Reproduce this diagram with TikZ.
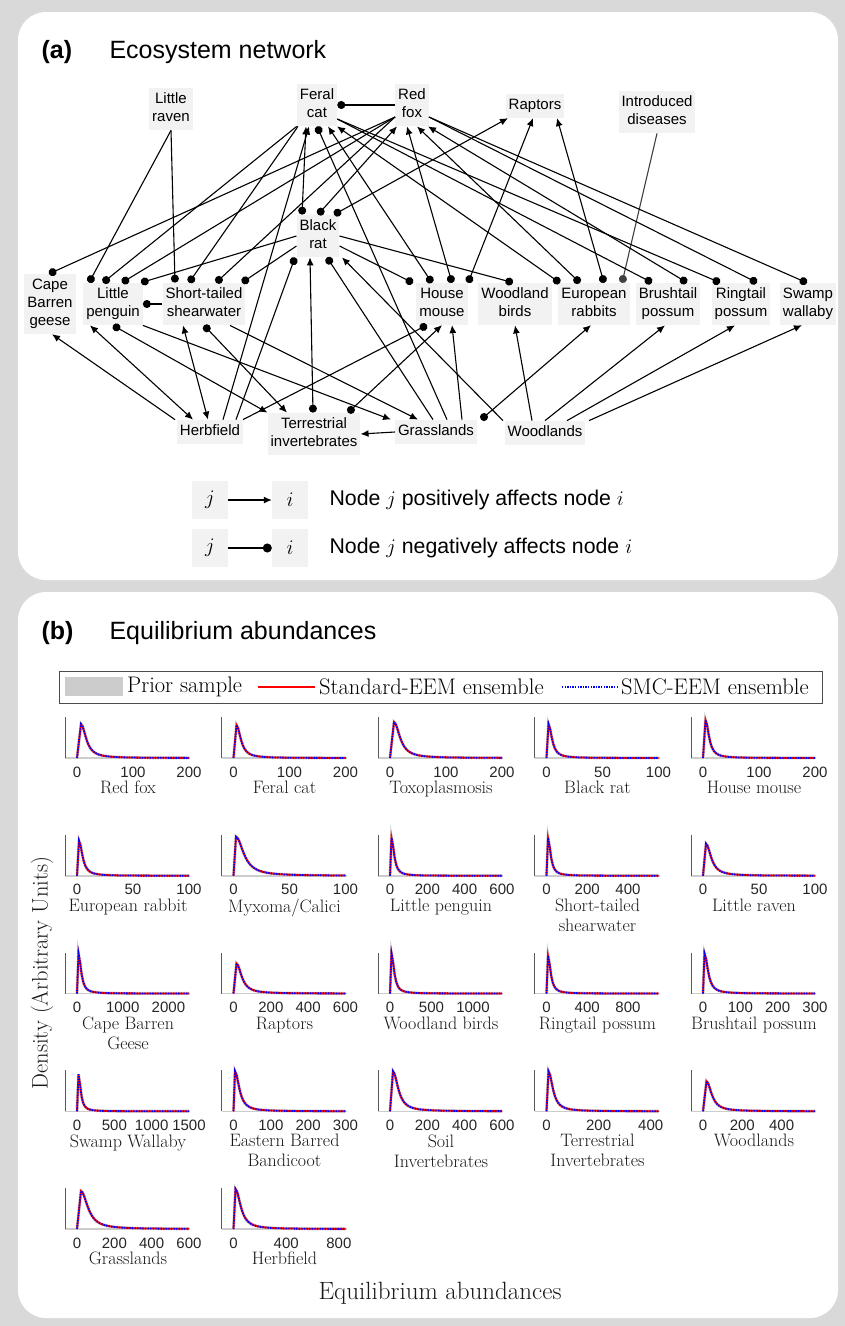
\documentclass[tikz,border=0pt]{standalone}
\usepackage{fontspec}
\newfontfamily\arialfont{Liberation Sans}
\usepackage{tikz}
\usetikzlibrary{arrows.meta}
\usetikzlibrary{calc}

\definecolor{boxgray}{HTML}{F2F2F2}
\definecolor{bggray}{HTML}{D9D9D9}
\definecolor{axisgray}{HTML}{595959}
\definecolor{priorgray}{HTML}{CCCCCC}
\definecolor{disgray}{HTML}{404040}
\definecolor{ticktext}{HTML}{262626}

\tikzset{
  spec/.style={fill=boxgray, align=center, inner xsep=3pt, inner ysep=5pt, text depth=3.5pt,
    font=\arialfont\fontsize{15}{18}\selectfont},
  legbox/.style={fill=boxgray, minimum width=36pt, minimum height=38pt, inner sep=0pt,
    font=\fontsize{22}{24}\selectfont},
  posarr/.style={line width=1.1pt, -{Latex[length=8pt,width=7pt]}},
  negarr/.style={line width=1.1pt, -{Circle[length=8pt]}},
  negpos/.style={line width=1.1pt, {Circle[length=8pt]}-{Latex[length=8pt,width=7pt]}},
  bothpos/.style={line width=1.1pt, {Latex[length=8pt,width=7pt]}-{Latex[length=8pt,width=7pt]}},
  ticklab/.style={font=\arialfont\fontsize{15}{17}\selectfont, text=ticktext, inner sep=0pt},
  plottitle/.style={font=\fontsize{18}{20}\selectfont, align=center, anchor=north, inner sep=0pt, text=black!90},
  priorcurve/.style={priorgray, line width=3pt},
  stdcurve/.style={red, line width=1.8pt},
  smccurve/.style={blue, line width=1.8pt, dash pattern=on 1.3pt off 1.3pt}
}

\begin{document}
\begin{tikzpicture}[x=1pt, y=-1pt]

\path[use as bounding box, fill=bggray] (0,0) rectangle (845,1326);
\fill[white, rounded corners=28pt] (18,12) rectangle (838,580);
\fill[white, rounded corners=28pt] (18,592) rectangle (838,1318);

% (a) network
\path
(38,52) node[anchor=west, font=\arialfont\bfseries\fontsize{25}{28}\selectfont] (atitle) {(a)}
(106,52) node[anchor=west, font=\arialfont\fontsize{25}{28}\selectfont] (aname) {Ecosystem network};

\path
(171,109) node[spec] (ravenin) {Little\\raven}
(317,105) node[spec] (catin) {Feral\\cat}
(412,105) node[spec] (foxin) {Red\\fox}
(535,106) node[spec] (raptin) {Raptors}
(657,112) node[spec] (disin) {Introduced\\diseases}
(318,236) node[spec] (ratin) {Black\\rat};

\path
(50,304) node[spec] (geesein) {Cape\\Barren\\geese}
(113,304) node[spec] (pengin) {Little\\penguin}
(204,304) node[spec] (shearin) {Short-tailed\\shearwater}
(442,304) node[spec] (mousein) {House\\mouse}
(515,304) node[spec] (wbirdin) {Woodland\\birds}
(594,304) node[spec] (rabbitin) {European\\rabbits}
(668,304) node[spec] (brushin) {Brushtail\\possum}
(741,304) node[spec] (ringin) {Ringtail\\possum}
(808,304) node[spec] (wallin) {Swamp\\wallaby};

\path
(210,432) node[spec] (herbin) {Herbfield}
(314,434) node[spec] (tinvin) {Terrestrial\\invertebrates}
(436,432) node[spec] (grassin) {Grasslands}
(545,433) node[spec] (woodin) {Woodlands};

\draw[negarr] (foxin.west) -- (catin.east);
\draw[negarr] (ravenin.south) -- ([xshift=-24pt]pengin.north);
\draw[negarr] (ravenin.south) -- ([xshift=-29pt]shearin.north);
\draw[negarr] (catin.south west) -- ([xshift=-10pt]pengin.north);
\draw[negarr] ([xshift=-19pt]catin.south) -- ([xshift=-15pt]shearin.north);
\draw[negarr] ([yshift=-12pt]foxin.west) -- ([xshift=-1pt]geesein.north);
\draw[negarr] ([yshift=-12pt]foxin.west) -- ([xshift=9pt]pengin.north);
\draw[negarr] ([yshift=-12pt]foxin.west) -- ([xshift=12pt]shearin.north);
\draw[negpos] ([xshift=-16pt]ratin.north) -- ([xshift=-11pt]catin.south);
\draw[negpos] (ratin.north) -- ([xshift=-15pt]foxin.south);
\draw[negpos] ([xshift=16pt]ratin.north) -- ([xshift=-27pt]raptin.south);
\draw[negarr] (ratin.west) -- ([xshift=28pt]pengin.north);
\draw[negarr] ([yshift=-10pt]ratin.west) -- ([xshift=38pt]shearin.north);
\draw[negarr] (shearin.west) -- (pengin.east);
\draw[negarr] (ratin.east) -- ([xshift=-2pt]wbirdin.north);
\draw[negarr] ([yshift=-10pt]ratin.east) -- ([xshift=-29pt]mousein.north);
\draw[negpos] ([xshift=-10pt]mousein.north) -- ([xshift=11pt]catin.south);
\draw[negpos] ([xshift=10pt]mousein.north) -- ([xshift=-5pt]foxin.south);
\draw[negpos] ([xshift=26pt]mousein.north) -- ([xshift=-2pt]raptin.south);
\draw[negpos] ([xshift=-34pt]rabbitin.north) -- ([xshift=20pt]catin.south);
\draw[negpos] ([xshift=-14pt]rabbitin.north) -- ([xshift=5pt]foxin.south);
\draw[negpos] ([xshift=10pt]rabbitin.north) -- ([xshift=22pt]raptin.south);
\draw[negarr, disgray] (disin.south) -- ([xshift=28pt]rabbitin.north);
\draw[negarr] ([yshift=-14pt]catin.east) -- ([xshift=-16pt]brushin.north);
\draw[negarr] ([yshift=-14pt]catin.east) -- ([xshift=-21pt]ringin.north);
\draw[negpos] ([xshift=19pt]brushin.north) -- ([xshift=16pt]foxin.south);
\draw[negarr] ([yshift=-12pt]foxin.east) -- ([xshift=16pt]ringin.north);
\draw[negarr] ([yshift=-12pt]foxin.east) -- ([xshift=-1pt]wallin.north);

\draw[negpos] ([xshift=-1pt]tinvin.north) -- ([xshift=-8pt]ratin.south);
\draw[negarr] ([xshift=26pt]herbin.north) -- ([xshift=-23pt]ratin.south);
\draw[posarr] ([xshift=13pt]herbin.north) -- ([xshift=-8pt]catin.south);
\draw[negarr] ([xshift=-3pt]grassin.north) -- ([xshift=9pt]ratin.south);
\draw[negarr] ([xshift=11pt]grassin.north) -- (catin.south);
\draw[posarr] ([xshift=26pt]grassin.north) -- ([xshift=10pt]mousein.south);
\draw[negpos] ([xshift=34pt]tinvin.north) -- (mousein.south);
\draw[negarr] ([xshift=33pt]herbin.north) -- ([xshift=-15pt]mousein.south);
\draw[posarr] (grassin.west) -- (tinvin.east);
\draw[posarr] ([xshift=-42pt]woodin.north) -- ([xshift=24pt]ratin.south);
\draw[posarr] ([xshift=-13pt]woodin.north) -- (wbirdin.south);
\draw[negpos] ([xshift=45pt]grassin.north) -- ([xshift=-3pt]rabbitin.south);
\draw[posarr] (woodin.north) -- ([xshift=-3pt]brushin.south);
\draw[posarr] ([xshift=22pt]woodin.north) -- ([xshift=-6pt]ringin.south);
\draw[posarr] ([xshift=44pt]woodin.north) -- ([xshift=-6pt]wallin.south);
\draw[posarr] ([xshift=-35pt]herbin.north) -- ([xshift=2pt]geesein.south);
\draw[bothpos] ([xshift=-23pt]pengin.south) -- ([xshift=-17pt]herbin.north);
\draw[bothpos] ([xshift=-21pt]shearin.south) -- ([xshift=-2pt]herbin.north);
\draw[negpos] (pengin.south) -- (tinvin.north west);
\draw[negpos] (shearin.south) -- ([xshift=-27pt]tinvin.north);
\draw[posarr] (pengin.south east) -- ([xshift=-45pt]grassin.north);
\draw[posarr] ([xshift=26pt]shearin.south) -- ([xshift=-18pt]grassin.north);

% key
\path
(210,500) node[legbox] (jin) {$j$}
(290,500) node[legbox] (iin) {$i$}
(210,548) node[legbox] (jjin) {$j$}
(290,548) node[legbox] (iiin) {$i$}
(326,500) node[anchor=west, font=\arialfont\fontsize{21.3}{24}\selectfont] (keypos) {Node $j$ positively affects node $i$}
(326,548) node[anchor=west, font=\arialfont\fontsize{21.3}{24}\selectfont] (keyneg) {Node $j$ negatively affects node $i$};
\draw[posarr] (jin) -- (iin);
\draw[line width=1.1pt, -{Circle[length=9pt]}] (jjin) -- (iiin.west);

% (b) densities
\path
(38,633) node[anchor=west, font=\arialfont\bfseries\fontsize{25}{28}\selectfont] (btitle) {(b)}
(106,633) node[anchor=west, font=\arialfont\fontsize{25}{28}\selectfont] (bname) {Equilibrium abundances};

\draw[black!70, line width=0.9pt] (59,671) rectangle (822,703);
\fill[priorgray] (65,677) rectangle (123,696);
\node[anchor=west, inner sep=0pt, font=\fontsize{22.5}{24}\selectfont] (lprior) at (127,687) {Prior sample};
\draw[red, line width=1.3pt] (258,687) -- (315,687);
\node[anchor=west, inner sep=0pt, font=\fontsize{22.5}{24}\selectfont] (lstd) at (319,687) {Standard-EEM ensemble};
\draw[blue, line width=1.3pt, dash pattern=on 1.3pt off 1.3pt] (562,687) -- (617,687);
\node[anchor=west, inner sep=0pt, font=\fontsize{22.5}{24}\selectfont] (lsmc) at (621,687) {SMC-EEM ensemble};

\foreach \col/\row/\mx/\pk/\sw/\hh/\tk/\ttl in {
  0/0/200/4/6/34/{0,100,200}/Red fox,
  1/0/200/3/5/33/{0,100,200}/Feral cat,
  2/0/200/4/7/36/{0,100,200}/Toxoplasmosis,
  3/0/100/2/4/34/{0,50,100}/Black rat,
  4/0/200/2.5/4/38/{0,100,200}/House mouse,
  0/1/100/2/4/35/{0,50,100}/European rabbit,
  1/1/100/2.5/9/39/{0,50,100}/Myxoma\slash Calici,
  2/1/600/1.5/3/38/{0,200,400,600}/Little penguin,
  3/1/550/1.5/3/38/{0,200,400}/Short-tailed\\shearwater,
  4/1/100/3/6/32/{0,50,100}/Little raven,
  0/2/2450/1.5/3/40/{0,1000,2000}/Cape Barren\\Geese,
  1/2/600/3/6/30/{0,200,400,600}/Raptors,
  2/2/1350/1.5/3/40/{0,500,1000}/Woodland birds,
  3/2/1100/1.5/3/38/{0,400,800}/Ringtail possum,
  4/2/300/1.5/4/40/{0,100,200,300}/Brushtail possum,
  0/3/1500/1.5/2.5/37/{0,500,1000,1500}/Swamp Wallaby,
  1/3/300/1.5/5/40/{0,100,200,300}/Eastern Barred\\Bandicoot,
  2/3/600/3/6/40/{0,200,400,600}/Soil\\Invertebrates,
  3/3/430/2/5/40/{0,200,400}/Terrestrial\\Invertebrates,
  4/3/570/3.5/6/30/{0,200,400}/Woodlands,
  0/4/600/4/8/38/{0,200,400,600}/Grasslands,
  1/4/850/2/6/40/{0,400,800}/Herbfield}{
  \pgfmathsetmacro\ax{65+156.5*\col}
  \pgfmathsetmacro\by{758+117.75*\row}
  \draw[priorgray, line width=1.5pt] (\ax,\by) -- ++(125,0);
  \draw[axisgray, line width=0.8pt] (\ax,\by) -- ++(0,-41);
  \foreach \tv in \tk {
    \pgfmathsetmacro\tx{\ax+12+112*(\tv/\mx)}
    \node[ticklab] at (\tx,\by+14) {\tv};
  }
  \node[plottitle] at (\ax+63,\by+23) {\ttl};
  \foreach \sty in {priorcurve,stdcurve,smccurve}
    \draw[\sty] (\ax+12,\by) -- (\ax+12+\pk,\by-\hh)
      -- plot[domain=\pk:112, samples=70] ({\ax+12+\x},{\by-\hh/(1+((\x-\pk)/\sw)^2)});
}

\node[rotate=90, font=\fontsize{22.5}{24}\selectfont, text=black!90] (ylab) at (42,973) {Density (Arbitrary Units)};
\node[font=\fontsize{25}{27}\selectfont, text=black!90] (xlab) at (440,1293) {Equilibrium abundances};

\end{tikzpicture}
\end{document}
